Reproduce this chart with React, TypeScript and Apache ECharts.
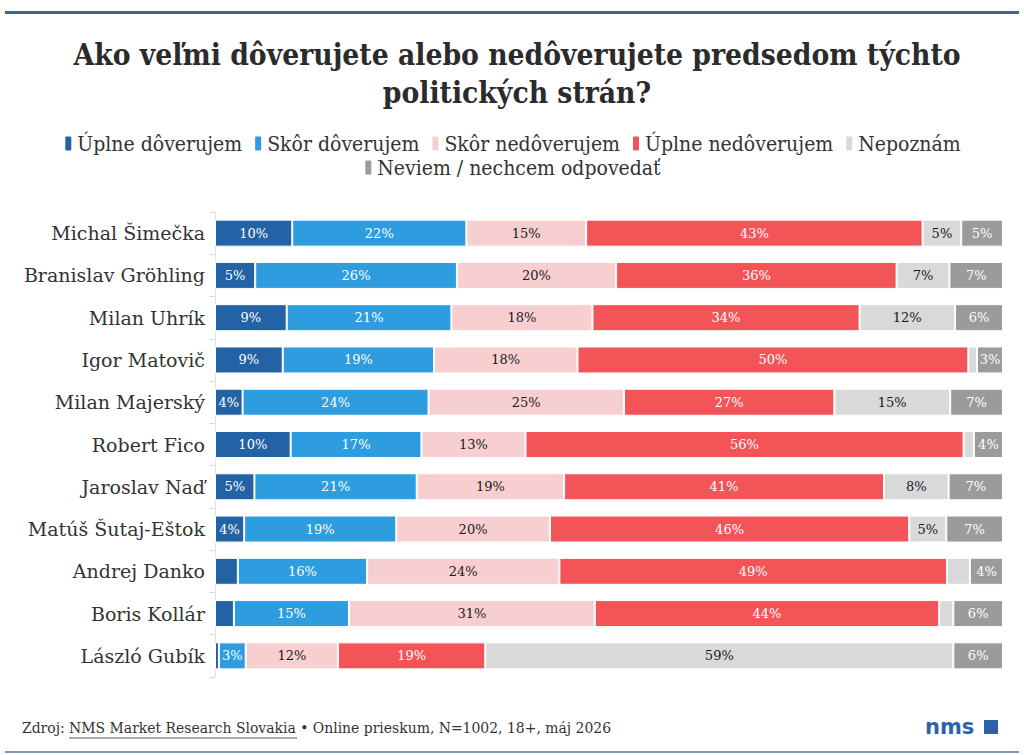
import React, { useEffect, useRef } from "react";
import * as echarts from "echarts";

const categories = [
  "Michal Šimečka",
  "Branislav Gröhling",
  "Milan Uhrík",
  "Igor Matovič",
  "Milan Majerský",
  "Robert Fico",
  "Jaroslav Naď",
  "Matúš Šutaj-Eštok",
  "Andrej Danko",
  "Boris Kollár",
  "László Gubík",
];

const seriesNames = [
  "Úplne dôverujem",
  "Skôr dôverujem",
  "Skôr nedôverujem",
  "Úplne nedôverujem",
  "Nepoznám",
  "Neviem / nechcem odpovedať",
];

const uplneDoverujem = [9.8, 5.1, 9.1, 8.6, 3.5, 9.6, 5.0, 3.7, 2.9, 2.4, 0.5];
const skorDoverujem = [22.1, 25.6, 20.9, 19.2, 23.6, 16.6, 20.6, 19.3, 16.4, 14.6, 3.4];
const skorNedoverujem = [15.2, 20.2, 17.9, 18.2, 24.8, 13.2, 18.7, 19.5, 24.4, 31.2, 11.7];
const uplneNedoverujem = [42.7, 35.6, 33.9, 49.6, 26.7, 55.6, 40.6, 45.6, 49.2, 43.7, 18.7];
const nepoznam = [4.9, 6.7, 12.1, 1.1, 14.7, 1.3, 8.2, 4.7, 2.9, 1.8, 59.4];
const neviem = [5.3, 6.8, 6.1, 3.3, 6.7, 3.7, 6.9, 7.2, 4.2, 6.3, 6.3];

const seriesData = [uplneDoverujem, skorDoverujem, skorNedoverujem, uplneNedoverujem, nepoznam, neviem];
const colors = ["#2462a6", "#2d9de0", "#f8cfd1", "#f25457", "#d9d9d9", "#9b9b9b"];
const labelColors = ["#ffffff", "#ffffff", "#1a1a1a", "#ffffff", "#1a1a1a", "#ffffff"];

const CONDENSED = '"DejaVu Serif Condensed", "Liberation Serif", serif';
const SERIF = '"DejaVu Serif", serif';

export default function App() {
  const ref = useRef<HTMLDivElement>(null);

  useEffect(() => {
    if (!ref.current) return;
    const chart = echarts.init(ref.current, null, { renderer: "svg" });

    const series = seriesNames.map((name, i) => ({
      name,
      type: "bar",
      stack: "total",
      barWidth: 27,
      data: seriesData[i],
      itemStyle: { color: colors[i], borderColor: "#ffffff", borderWidth: 1 },
      label: {
        show: true,
        position: "inside",
        color: labelColors[i],
        fontFamily: SERIF,
        fontSize: 13,
        formatter: (p: any) => (p.value >= 3 ? `${Math.round(p.value)}%` : ""),
      },
      emphasis: { disabled: true },
    }));

    chart.setOption({
      animation: false,
      backgroundColor: "#ffffff",
      color: colors,
      title: {
        text: "Ako veľmi dôverujete alebo nedôverujete predsedom týchto\npolitických strán?",
        left: 512,
        top: 30,
        textAlign: "center",
        textStyle: {
          fontFamily: CONDENSED,
          fontWeight: "bold",
          fontSize: 29.7,
          lineHeight: 38,
          color: "#2b2b2b",
        },
      },
      legend: [
        {
          data: seriesNames.slice(0, 5),
          left: "center",
          top: 128,
          icon: "roundRect",
          itemWidth: 8,
          itemHeight: 16,
          itemGap: 11,
          textStyle: { fontFamily: CONDENSED, fontSize: 21, color: "#333333" },
          selectedMode: false,
        },
        {
          data: seriesNames.slice(5),
          left: "center",
          top: 152,
          icon: "roundRect",
          itemWidth: 8,
          itemHeight: 16,
          textStyle: { fontFamily: CONDENSED, fontSize: 21, color: "#333333" },
          selectedMode: false,
        },
      ],
      grid: { left: 215, right: 21, top: 212, bottom: 78, containLabel: false },
      xAxis: { type: "value", min: 0, max: 100, show: false },
      yAxis: {
        type: "category",
        inverse: true,
        data: categories,
        axisLine: { show: true, lineStyle: { color: "#e3e3e3", width: 1 } },
        axisTick: { show: true, length: 5, lineStyle: { color: "#d6d6d6" } },
        axisLabel: { fontFamily: SERIF, fontSize: 19, color: "#333333", margin: 10 },
      },
      series,
      graphic: [
        { type: "rect", shape: { x: 5, y: 11, width: 1014, height: 3 }, style: { fill: "#3b6694" } },
        {
          type: "text",
          x: 22,
          y: 728,
          style: {
            text: "Zdroj: {u|NMS Market Research Slovakia} • Online prieskum, N=1002, 18+, máj 2026",
            fontFamily: CONDENSED,
            fontSize: 15.5,
            fill: "#333333",
            verticalAlign: "middle",
            rich: { u: { fontFamily: CONDENSED, fontSize: 15.5, color: "#333333" } },
          },
        },
        { type: "line", shape: { x1: 69, y1: 738, x2: 297, y2: 738 }, style: { stroke: "#555555", lineWidth: 1 } },
        {
          type: "text",
          x: 925,
          y: 727,
          style: {
            text: "nms",
            fontFamily: '"DejaVu Sans", sans-serif',
            fontWeight: "bold",
            fontSize: 21,
            fill: "#2d62a6",
            verticalAlign: "middle",
          },
        },
        { type: "rect", shape: { x: 984, y: 720, width: 14, height: 14 }, style: { fill: "#2d62a6" } },
        { type: "rect", shape: { x: 5, y: 751, width: 1014, height: 2 }, style: { fill: "#8199b8" } },
      ],
    });

    return () => chart.dispose();
  }, []);

  return <div ref={ref} style={{ width: 1024, height: 755, position: "absolute", left: 0, top: 0 }} />;
}
